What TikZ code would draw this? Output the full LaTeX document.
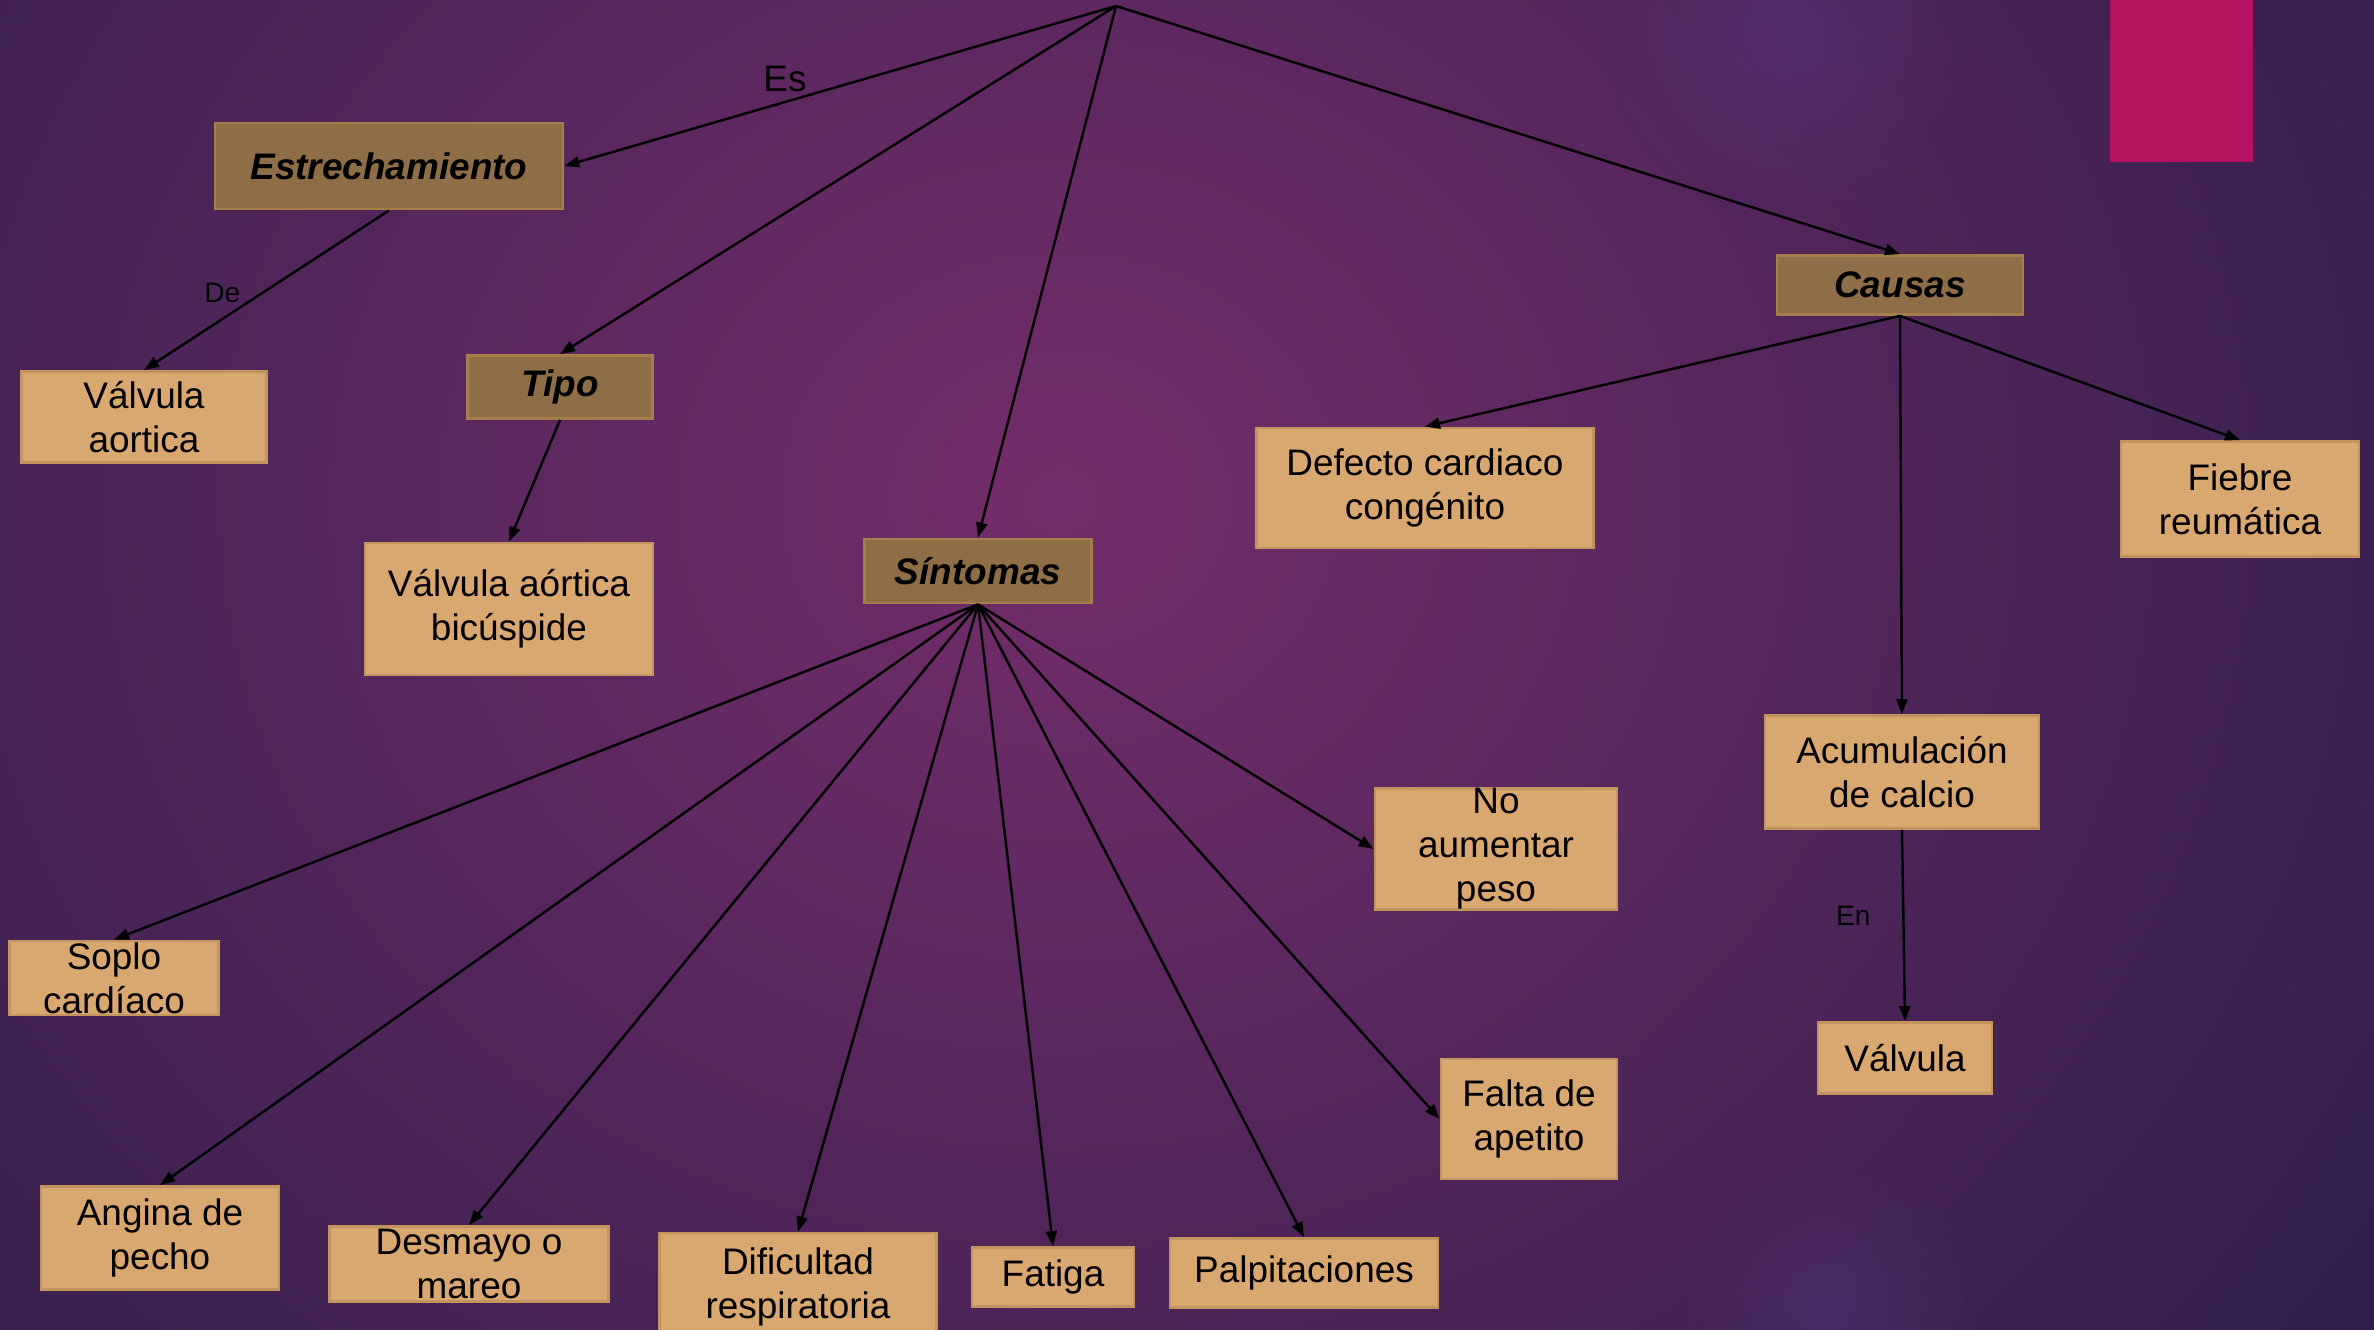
\documentclass[tikz,border=0pt]{standalone}
\usepackage{fontspec}
\setmainfont{Liberation Sans}
\usetikzlibrary{
    arrows.meta,
    fadings
}
\definecolor{bg dark}{RGB}{38,29,70}
\definecolor{bg glow}{RGB}{116,45,106}
\definecolor{bg spot}{RGB}{82,50,120}
\definecolor{accent pink}{RGB}{181,19,96}
\definecolor{dark tan}{RGB}{142,110,70}
\definecolor{dark tan edge}{RGB}{166,126,76}
\definecolor{light tan}{RGB}{217,168,112}
\definecolor{light tan edge}{RGB}{196,148,94}
\tikzfading[name=glow fade,inner color=transparent!0,outer color=transparent!100]
\tikzset{
    % Boxes
    concept box/.style={rectangle,line width=.8pt,align=center,inner xsep=0pt,inner ysep=-1cm,
        font=\fontsize{10.5}{12.5}\selectfont},
    main concept/.style={concept box,fill=dark tan,draw=dark tan edge,
        font=\fontsize{10.5}{12.5}\selectfont\bfseries\itshape},
    detail/.style={concept box,fill=light tan,draw=light tan edge},
    box size/.style 2 args={minimum width=#1*.01cm,minimum height=#2*.01cm},
    %
    % Arrows
    arrow tip/.tip={Triangle[length=1.5mm,width=1.1mm]},
    arr/.style={->,>={arrow tip},line width=.7pt},
    link label/.style={font=\fontsize{8}{9}\selectfont,inner sep=0pt}
}

\begin{document}
\begin{tikzpicture}[x=.01cm,y=-.01cm]
    \useasboundingbox (0,0) rectangle (2374,1330);
    \clip (0,0) rectangle (2374,1330);
    % background
    \fill[bg dark] (0,0) rectangle (2374,1330);
    \shade[inner color=bg glow,outer color=bg dark] (-740,-1100) rectangle (2860,2100);
    \fill[bg spot,path fading=glow fade,opacity=.6] (1790,30) circle[radius=190];
    \fill[bg spot,path fading=glow fade,opacity=.5] (1830,1310) circle[radius=150];
    \fill[accent pink] (2110,0) rectangle (2253,162);

    \coordinate (root) at (1116,6);

    \node[main concept,box size={348}{86}] (estr) at (389,166) {Estrechamiento};
    \node[main concept,box size={185}{63}] (tipo) at (560,387) {Tipo};
    \node[main concept,box size={227}{64}] (sint) at (978,571) {Síntomas};
    \node[main concept,box size={246}{59}] (causas) at (1900,285) {Causas};

    \node[detail,box size={245}{91}] (valvA) at (144,417) {Válvula\\aortica};
    \node[detail,box size={288}{132}] (bicus) at (509,609) {Válvula aórtica\\bicúspide};
    \node[detail,box size={337}{120}] (defecto) at (1425,488) {Defecto cardiaco\\congénito};
    \node[detail,box size={238}{115}] (fiebre) at (2240,499) {Fiebre\\reumática};
    \node[detail,box size={274}{113}] (acum) at (1902,772) {Acumulación\\de calcio};
    \node[detail,box size={174}{71}] (valv) at (1905,1058) {Válvula};

    \node[detail,box size={209}{74}] (soplo) at (114,978) {Soplo\\cardíaco};
    \node[detail,box size={238}{103}] (angina) at (160,1238) {Angina de\\pecho};
    \node[detail,box size={279}{75}] (desmayo) at (469,1264) {Desmayo o\\mareo};
    \node[detail,box size={277}{108}] (dific) at (798,1287) {Dificultad\\respiratoria};
    \node[detail,box size={162}{59}] (fatiga) at (1053,1277) {Fatiga};
    \node[detail,box size={268}{69}] (palp) at (1304,1273) {Palpitaciones};
    \node[detail,box size={176}{120}] (falta) at (1529,1119) {Falta de\\apetito};
    \node[detail,box size={242}{121}] (noaum) at (1496,849) {No\\aumentar\\peso};

    \draw[arr] (root) -- (estr.east)
        node[pos=.6,above=2.5pt,inner sep=0pt,font=\fontsize{10.5}{12.5}\selectfont] {Es};
    \draw[arr] (root) -- (tipo.north);
    \draw[arr] (root) -- (sint.north);
    \draw[arr] (root) -- (causas.north);
    \draw[arr] (estr.south) -- (valvA.north) node[link label,pos=.52,left=2mm] {De};
    \draw[arr] (tipo.south) -- (bicus.north);

    \foreach \t in {soplo,angina,desmayo,dific,fatiga,palp}
        \draw[arr] (sint.south) -- (\t.north);
    \draw[arr] (sint.south) -- (falta.west);
    \draw[arr] (sint.south) -- (noaum.west);

    \foreach \t in {defecto,fiebre,acum}
        \draw[arr] (causas.south) -- (\t.north);
    \draw[arr] (acum.south) -- (valv.north) node[link label,pos=.45,left=9pt] {En};
\end{tikzpicture}
\end{document}
